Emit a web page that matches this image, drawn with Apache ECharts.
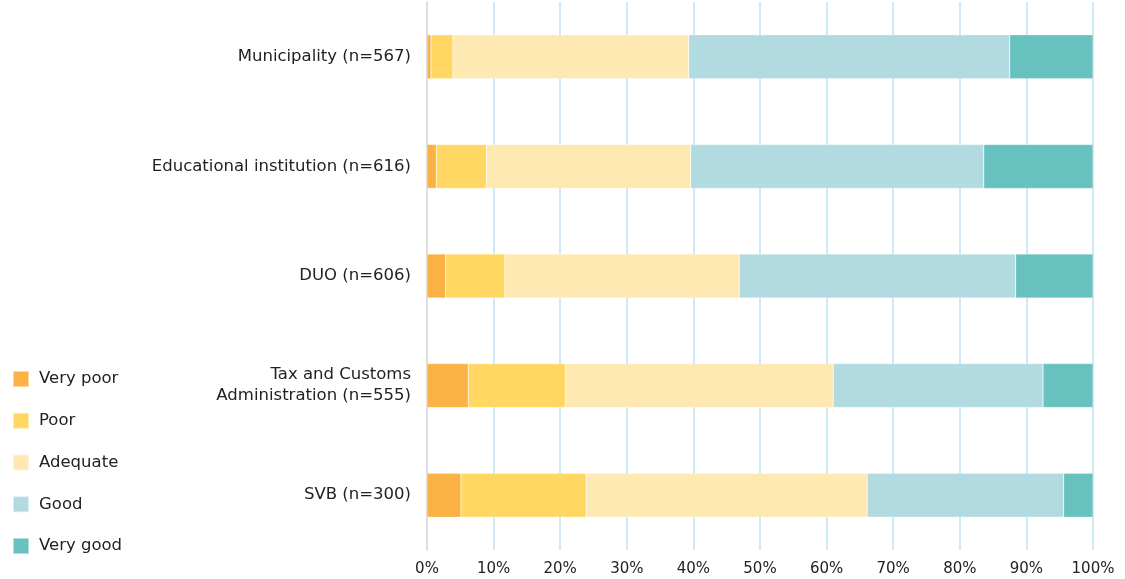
<!DOCTYPE html>
<html>
<head>
<meta charset="utf-8">
<script src="https://cdn.jsdelivr.net/npm/echarts@6/dist/echarts.min.js"></script>
<style>
  html, body { margin: 0; padding: 0; background: #fff; }
  #chart { width: 1125px; height: 579px; }
</style>
</head>
<body>
<div id="chart"></div>
<script>
// categories, top to bottom
var categories = ['Municipality (n=567)', 'Educational institution (n=616)', 'DUO (n=606)', 'Tax and Customs\nAdministration (n=555)', 'SVB (n=300)'];

// shares in %
var veryPoor = [0.6, 1.4, 2.8, 6.2, 5.1];
var poor     = [3.3, 7.5, 8.9, 14.6, 18.8];
var adequate = [35.4, 30.7, 35.2, 40.2, 42.2];
var good     = [48.2, 44.0, 41.5, 31.5, 29.5];
var veryGood = [12.5, 16.4, 11.6, 7.5, 4.4];

var seriesNames = ['Very poor', 'Poor', 'Adequate', 'Good', 'Very good'];
var seriesData = [veryPoor, poor, adequate, good, veryGood];
var colors = ['#F9B243', '#FFD762', '#FFE9B3', '#B1DBE0', '#67C1BF'];

var font = '"DejaVu Sans", sans-serif';

var chart = echarts.init(document.getElementById('chart'));

var series = seriesNames.map(function (name, i) {
    return {
        name: name,
        type: 'bar',
        stack: 'total',
        barWidth: 44,
        itemStyle: { color: colors[i], borderColor: 'rgba(255,255,255,0.5)', borderWidth: 0.5 },
        data: seriesData[i]
    };
});

chart.setOption({
    animation: false,
    color: colors,
    textStyle: { fontFamily: font },
    legend: {
        orient: 'vertical',
        left: 7,
        top: 365,
        icon: 'rect',
        itemWidth: 16,
        itemHeight: 16,
        itemGap: 23.75,
        textStyle: { fontSize: 16.5, color: '#222', fontFamily: font, padding: [0, 0, 0, 5] },
        data: seriesNames
    },
    grid: {
        left: 427,
        right: 32,
        top: 2,
        bottom: 29,
        containLabel: false
    },
    xAxis: {
        type: 'value',
        min: 0,
        max: 100,
        interval: 10,
        axisLine: { show: false },
        axisTick: { show: false },
        axisLabel: {
            formatter: '{value}%',
            fontSize: 15,
            color: '#222',
            margin: 12
        },
        splitLine: { lineStyle: { color: '#CDE9F8', width: 2 } }
    },
    yAxis: {
        type: 'category',
        inverse: true,
        data: categories,
        axisLine: { lineStyle: { color: '#DDDDDD', width: 2 } },
        axisTick: { show: false },
        axisLabel: {
            fontSize: 16.5,
            color: '#222',
            margin: 16,
            lineHeight: 21,
            align: 'right'
        }
    },
    series: series
});
</script>
</body>
</html>
